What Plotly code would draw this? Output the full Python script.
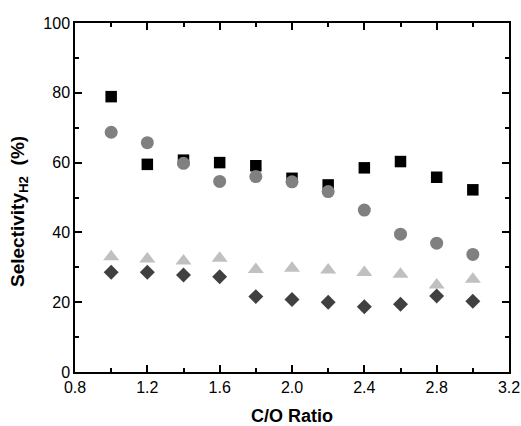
import plotly.graph_objects as go

x = [1.0, 1.2, 1.4, 1.6, 1.8, 2.0, 2.2, 2.4, 2.6, 2.8, 3.0]
squares = [78.9, 59.5, 60.7, 60.0, 59.1, 55.5, 53.6, 58.5, 60.3, 55.8, 52.2]
circles = [68.7, 65.7, 59.8, 54.6, 56.0, 54.5, 51.7, 46.4, 39.5, 36.9, 33.7]
triangles = [33.0, 32.4, 31.8, 32.6, 29.4, 29.7, 29.2, 28.5, 28.0, 24.9, 26.6]
diamonds = [28.6, 28.6, 27.8, 27.3, 21.6, 20.8, 20.0, 18.7, 19.4, 21.8, 20.3]

fig = go.Figure()
series = [
    (squares, "square", "#000000", 11.5),
    (circles, "circle", "#808080", 13),
    (triangles, "triangle-up", "#c0c0c0", 14),
    (diamonds, "diamond", "#404040", 11.5),
]
for ys, sym, col, sz in series:
    fig.add_trace(go.Scatter(x=x, y=ys, mode="markers",
                             marker=dict(symbol=sym, color=col, size=sz, line=dict(width=0)),
                             showlegend=False))

axis_common = dict(showgrid=False, zeroline=False, showline=True, linecolor="black",
                   linewidth=1.5, mirror="allticks", ticks="inside", ticklen=7,
                   tickwidth=1.5, tickcolor="black",
                   tickfont=dict(family="Liberation Sans, Arial", size=16, color="black"))

fig.update_xaxes(range=[0.8, 3.2], tickvals=[0.8, 1.2, 1.6, 2.0, 2.4, 2.8, 3.2],
                 ticktext=["0.8", "1.2", "1.6", "2.0", "2.4", "2.8", "3.2"],
                 minor=dict(dtick=0.2, tick0=0.8, ticks="inside", ticklen=4, tickwidth=1.5, tickcolor="black"),
                 title=dict(text="<b>C/O Ratio</b>", font=dict(family="Liberation Sans, Arial", size=18, color="black"), standoff=20),
                 **axis_common)
fig.update_yaxes(range=[0, 100], dtick=20,
                 minor=dict(dtick=10, ticks="inside", ticklen=4, tickwidth=1.5, tickcolor="black"),
                 **axis_common)

fig.add_annotation(text="<b>Selectivity<sub>H2</sub>&nbsp;&nbsp;(%)</b>", textangle=-90,
                   xref="paper", yref="paper", x=(19 - 75) / 434, y=(372 - 212) / 349,
                   xanchor="center", yanchor="middle", showarrow=False,
                   font=dict(family="Liberation Sans, Arial", size=19, color="black"))

fig.update_layout(width=521, height=426, margin=dict(l=75, r=12, t=23, b=54, autoexpand=False),
                  plot_bgcolor="white", paper_bgcolor="white")

fig.write_html("out.html")
